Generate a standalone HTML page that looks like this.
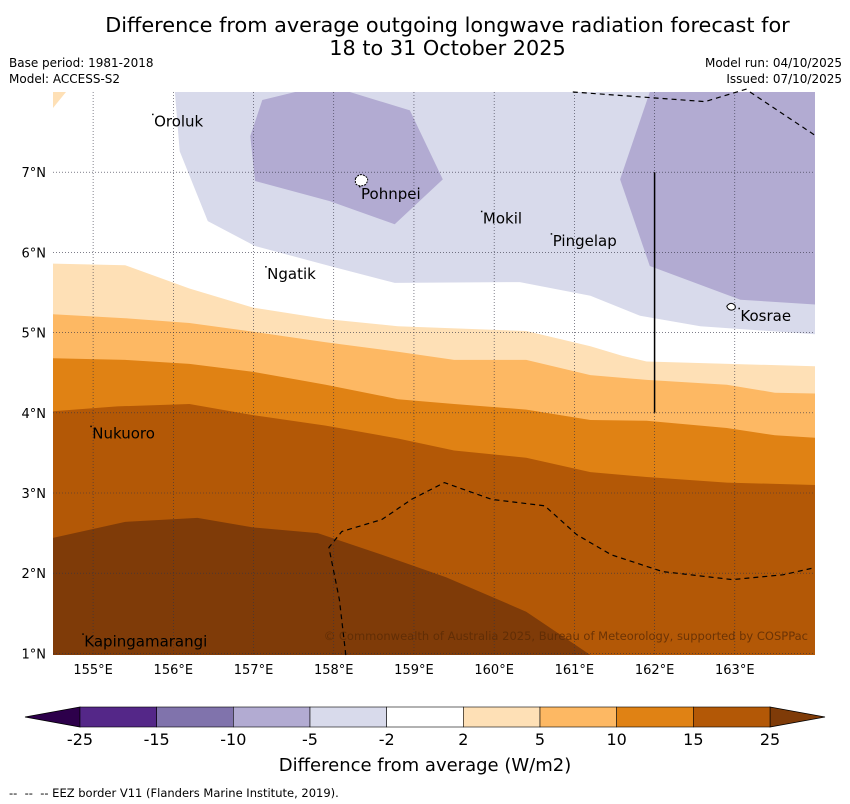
<!DOCTYPE html>
<html><head><meta charset="utf-8">
<style>
body{margin:0;background:#fff;font-family:"DejaVu Sans","Liberation Sans",sans-serif;}
#wrap{position:relative;width:850px;height:804px;overflow:hidden;}
.t{position:absolute;white-space:nowrap;}
svg text{font-family:"DejaVu Sans","Liberation Sans",sans-serif;}
</style></head>
<body>
<div id="wrap">
<div class="t" style="left:0;width:895px;top:14px;text-align:center;font-size:20.8px;line-height:23px;">Difference from average outgoing longwave radiation forecast for<br>18 to 31 October 2025</div>
<div class="t" style="left:9px;top:55px;font-size:12px;line-height:16px;">Base period: 1981-2018<br>Model: ACCESS-S2</div>
<div class="t" style="right:8px;top:55px;font-size:12px;line-height:16px;text-align:right;">Model run: 04/10/2025<br>Issued: 07/10/2025</div>
<svg id="svg" width="850" height="804" style="position:absolute;left:0;top:0"></svg>
<div class="t" style="left:0;width:850px;top:755px;text-align:center;font-size:18px;">Difference from average (W/m2)</div>
<div class="t" style="left:9px;top:786px;font-size:11.5px;">-- &nbsp;-- &nbsp;-- EEZ border V11 (Flanders Marine Institute, 2019).</div>
</div>
<script>
// axis extents
const lonMin=154.5, lonMax=164.0, latMin=0.98, latMax=8.0;
const lonTicks=[155,156,157,158,159,160,161,162,163];
const latTicks=[1,2,3,4,5,6,7];
// contour boundaries as [lon,lat]
const b2=[[154.5,5.86],[155.4,5.84],[156.2,5.55],[157.0,5.31],[157.9,5.17],[158.8,5.08],[160.4,5.02],[161.2,4.83],[161.6,4.71],[161.9,4.64],[164,4.58]];
const b5=[[154.5,5.23],[155.4,5.18],[156.2,5.12],[157.0,5.01],[157.9,4.88],[158.8,4.76],[159.5,4.66],[160.4,4.66],[161.2,4.47],[161.9,4.41],[162.9,4.35],[163.5,4.25],[164,4.24]];
const b10=[[154.5,4.68],[155.4,4.66],[156.2,4.61],[157.0,4.51],[157.9,4.35],[158.8,4.17],[159.5,4.11],[160.4,4.04],[161.2,3.91],[161.9,3.90],[162.9,3.81],[163.5,3.72],[164,3.69]];
const b15=[[154.5,4.02],[155.3,4.08],[156.2,4.11],[157.0,3.97],[157.9,3.84],[158.8,3.68],[159.5,3.53],[160.4,3.44],[161.2,3.26],[161.9,3.20],[162.9,3.13],[164,3.10]];
const b25=[[154.5,2.44],[155.4,2.64],[156.3,2.69],[157.0,2.57],[157.8,2.50],[158.6,2.23],[159.4,1.95],[160.4,1.52],[161.2,0.98]];
const bm2=[[156.02,8.0],[156.08,7.26],[156.43,6.39],[157.02,6.08],[157.95,5.83],[158.76,5.62],[160.32,5.63],[161.2,5.46],[161.82,5.21],[162.57,5.08],[164,4.98]];
const bm5a=[[157.11,7.9],[157.52,8.0],[158.2,8.0],[158.95,7.77],[159.36,6.91],[158.76,6.35],[157.95,6.64],[157.02,6.89],[156.96,7.45]];
const bm5b=[[161.94,8.0],[164,8.0],[164,5.35],[163.07,5.41],[161.94,5.83],[161.57,6.91]];
const eez1=[[158.15,0.98],[158.07,1.67],[157.94,2.32],[158.1,2.52],[158.6,2.67],[158.97,2.92],[159.38,3.13],[159.97,2.92],[160.63,2.84],[161.03,2.48],[161.46,2.23],[162.1,2.02],[162.97,1.92],[163.6,1.98],[164,2.07]];
const eez2=[[160.98,8.0],[162.63,7.88],[163.19,8.05]];
const eez3=[[163.19,8.0],[164,7.46]];
const places=["Oroluk","Pohnpei","Mokil","Pingelap","Ngatik","Kosrae","Nukuoro","Kapingamarangi"];
const placeLon=[155.76,158.34,159.86,160.73,157.17,163.07,154.99,154.89];
const placeLat=[7.63,6.73,6.42,6.14,5.73,5.21,3.74,1.15];
const cbLevels=["-25","-15","-10","-5","-2","2","5","10","15","25"];
const cbColors=["#542788","#8073ac","#b2abd2","#d8daeb","#ffffff","#fee0b6","#fdb863","#e08214","#b35806"];

const x0=53,x1=815,y0=92,y1=655;
function X(lon){return x0+(lon-lonMin)/(lonMax-lonMin)*(x1-x0);}
function Y(lat){return y1-(lat-latMin)/(latMax-latMin)*(y1-y0);}
const svg=document.getElementById('svg');
const NS='http://www.w3.org/2000/svg';
function mk(tag,attrs){const e=document.createElementNS(NS,tag);for(const k in attrs)e.setAttribute(k,attrs[k]);svg.appendChild(e);return e;}
function pts(a){return a.map(p=>X(p[0]).toFixed(1)+','+Y(p[1]).toFixed(1)).join(' ');}
function south(b){const last=b[b.length-1],first=b[0];return pts(b)+' '+X(last[0])+','+y1+' '+X(first[0])+','+y1;}

let e;
e=mk('rect',{x:x0,y:y0,width:x1-x0,height:y1-y0,fill:'#fff'});


e=mk('polygon',{points:pts(bm2)+' '+X(164)+','+y0,fill:'#d8daeb'});


e=mk('polygon',{points:pts(bm5a),fill:'#b2abd2'});


e=mk('polygon',{points:pts(bm5b),fill:'#b2abd2'});


const bands=[[b2,'#fee0b6','band-2-to-5'],[b5,'#fdb863','band-5-to-10'],[b10,'#e08214','band-10-to-15'],[b15,'#b35806','band-15-to-25']];
bands.forEach(b=>{e=mk('polygon',{points:south(b[0]),fill:b[1]});

});
e=mk('polygon',{points:pts(b25)+' '+X(154.5)+','+y1,fill:'#7f3b08'});


e=mk('polygon',{points:`${x0},${y0} ${x0+13},${y0} ${x0},${y0+16}`,fill:'#fee0b6'});



lonTicks.forEach(l=>{e=mk('line',{x1:X(l),x2:X(l),y1:y0,y2:y1,stroke:'#334',"stroke-width":0.6,"stroke-dasharray":'1,2'});


e=mk('text',{x:X(l),y:674,"text-anchor":'middle',"font-size":13});e.textContent=l+'°E';

});
latTicks.forEach(l=>{e=mk('line',{x1:x0,x2:x1,y1:Y(l),y2:Y(l),stroke:'#334',"stroke-width":0.6,"stroke-dasharray":'1,2'});


e=mk('text',{x:46,y:Y(l)+5,"text-anchor":'end',"font-size":13});e.textContent=l+'°N';

});

[eez1,eez2,eez3].forEach(a=>{e=mk('polyline',{points:pts(a),fill:'none',stroke:'#000',"stroke-width":1.2,"stroke-dasharray":'5,4'});

});
e=mk('line',{x1:X(162),x2:X(162),y1:Y(7),y2:Y(4),stroke:'#000',"stroke-width":1.5});


e=mk('path',{d:`M${X(158.27)},${Y(6.92)} q4,-6 9,-3 q6,3 1,9 q-6,3 -10,-1z`,fill:'#fff',stroke:'#000',"stroke-width":1,"stroke-dasharray":'2,1'});


e=mk('path',{d:`M${X(162.9)},${Y(5.33)} q4,-5 8,-1 q2,4 -3,5 q-4,0 -5,-4z`,fill:'#fff',stroke:'#000',"stroke-width":1});


places.forEach((p,i)=>{e=mk('text',{x:X(placeLon[i]),y:Y(placeLat[i])+5,"font-size":15});e.textContent=p;


e=mk('rect',{x:X(placeLon[i])-2,y:Y(placeLat[i])-8,width:1.5,height:1.5,fill:'#000'});

});
e=mk('text',{x:808,y:640,"text-anchor":'end',"font-size":11.5,fill:'#5a2a05',"fill-opacity":0.8});
e.textContent='© Commonwealth of Australia 2025, Bureau of Meteorology, supported by COSPPac';



const cx0=80,cx1=770,cy=707,ch=20,cw=(cx1-cx0)/cbColors.length;
e=mk('polygon',{points:`${cx0},${cy} 25,${cy+ch/2} ${cx0},${cy+ch}`,fill:'#2d004b',stroke:'#000',"stroke-width":0.8});


e=mk('polygon',{points:`${cx1},${cy} 825,${cy+ch/2} ${cx1},${cy+ch}`,fill:'#7f3b08',stroke:'#000',"stroke-width":0.8});


cbColors.forEach((c,i)=>{e=mk('rect',{x:cx0+i*cw,y:cy,width:cw,height:ch,fill:c,stroke:'#000',"stroke-width":0.6});

});
cbLevels.forEach((l,i)=>{e=mk('text',{x:cx0+i*cw,y:745,"text-anchor":'middle',"font-size":16});e.textContent=l;

});
</script>
</body></html>
